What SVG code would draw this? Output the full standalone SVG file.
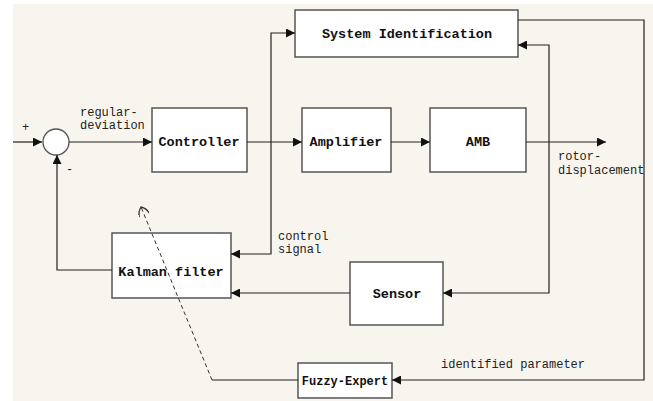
<svg xmlns="http://www.w3.org/2000/svg" width="653" height="401" viewBox="0 0 653 401">
<defs>
<style>
.box{fill:#fff;stroke:#555;stroke-width:1.5}
.ln{fill:none;stroke:#222;stroke-width:1.2}
.dash{fill:none;stroke:#333;stroke-width:1;stroke-dasharray:4,3}
.b{font-family:"Liberation Mono",monospace;font-weight:bold;font-size:13.5px;fill:#111;text-anchor:middle}
.t{font-family:"Liberation Mono",monospace;font-size:12px;fill:#222}
</style>
<marker id="ah" viewBox="0 0 10 10" refX="10" refY="5" markerWidth="9" markerHeight="9" markerUnits="userSpaceOnUse" orient="auto">
<path d="M0,0 L10,5 L0,10 Z" fill="#111"/>
</marker>
<marker id="oh" viewBox="0 0 10 10" refX="9" refY="5" markerWidth="11" markerHeight="11" markerUnits="userSpaceOnUse" orient="auto">
<path d="M1,0 Q6,1 9,5 Q6,9 1,10" fill="none" stroke="#333" stroke-width="1.2"/>
</marker>
</defs>
<rect x="0" y="0" width="653" height="401" fill="#fff"/>
<rect x="13" y="4" width="640" height="397" fill="#f8f5ee"/>

<g id="sum">
<circle cx="56" cy="142" r="13" fill="#fff" stroke="#555" stroke-width="1.3"/>
<text class="t" x="22" y="131">+</text>
<text class="t" x="66" y="173">-</text>
</g>

<g id="sysid">
<rect class="box" x="295" y="10" width="223" height="47"/>
<text class="b" x="407" y="38">System Identification</text>
</g>
<g id="controller">
<rect class="box" x="152" y="108" width="95" height="64"/>
<text class="b" x="199" y="146">Controller</text>
</g>
<g id="amplifier">
<rect class="box" x="302" y="108" width="89" height="64"/>
<text class="b" x="346" y="146">Amplifier</text>
</g>
<g id="amb">
<rect class="box" x="430" y="108" width="96" height="64"/>
<text class="b" x="478" y="146">AMB</text>
</g>
<g id="kalman">
<rect class="box" x="112" y="233" width="119" height="65"/>
<text class="b" x="171" y="276">Kalman filter</text>
</g>
<g id="sensor">
<rect class="box" x="350" y="262" width="93" height="63"/>
<text class="b" x="397" y="298">Sensor</text>
</g>
<g id="fuzzy">
<rect class="box" x="298" y="363" width="94" height="35"/>
<text class="b" x="345" y="385" style="font-size:12px">Fuzzy-Expert</text>
</g>

<g id="connectors">
<line class="ln" x1="13" y1="142" x2="42" y2="142" marker-end="url(#ah)"/>
<line class="ln" x1="69" y1="142" x2="152" y2="142" marker-end="url(#ah)"/>
<line class="ln" x1="247" y1="142" x2="302" y2="142" marker-end="url(#ah)"/>
<line class="ln" x1="391" y1="142" x2="430" y2="142" marker-end="url(#ah)"/>
<line class="ln" x1="526" y1="142" x2="606" y2="142" marker-end="url(#ah)"/>
<polyline class="ln" points="271,142 271,33 295,33" marker-end="url(#ah)"/>
<polyline class="ln" points="271,142 271,254 231,254" marker-end="url(#ah)"/>
<polyline class="ln" points="549,142 549,45 518,45" marker-end="url(#ah)"/>
<polyline class="ln" points="549,142 549,293 443,293" marker-end="url(#ah)"/>
<line class="ln" x1="350" y1="293" x2="231" y2="293" marker-end="url(#ah)"/>
<polyline class="ln" points="112,270 57,270 57,155" marker-end="url(#ah)"/>
<polyline class="ln" points="518,20 644,20 644,380 392,380" marker-end="url(#ah)"/>
<line class="ln" x1="298" y1="380" x2="212" y2="380"/>
<line class="dash" x1="212" y1="380" x2="141" y2="207" marker-end="url(#oh)"/>
</g>

<g id="labels">
<text class="t" x="80" y="116">regular-</text>
<text class="t" x="80" y="129">deviation</text>
<text class="t" x="558" y="160">rotor-</text>
<text class="t" x="558" y="174">displacement</text>
<text class="t" x="278" y="240">control</text>
<text class="t" x="278" y="253">signal</text>
<text class="t" x="441" y="368">identified parameter</text>
</g>
</svg>
